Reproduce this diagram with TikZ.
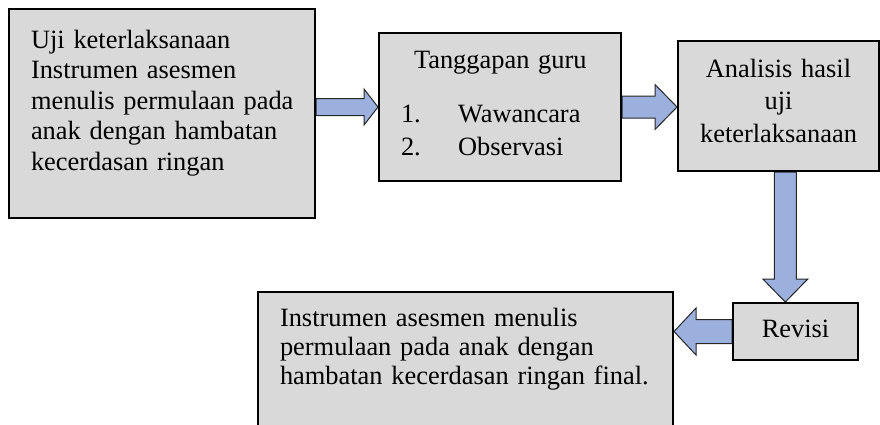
\documentclass[tikz,border=0pt]{standalone}
\usepackage{fontspec}
\setmainfont{Liberation Serif}
\usetikzlibrary{calc,backgrounds}
\definecolor{abu}{HTML}{D9D9D9}
\definecolor{biru}{RGB}{156,176,221}
\tikzset{
  kotak/.style={draw, line width=2pt, fill=abu, anchor=north west,
    inner xsep=22pt, inner ysep=0pt, font=\fontsize{26.4}{30.6}\selectfont},
  panah/.style={draw=black!85, line width=1pt, fill=biru, line join=miter}
}
% panah blok: ekor, ujung, setengah badan, setengah kepala, panjang kepala
\newcommand{\panahblok}[5]{%
  \coordinate (pb) at ($(#2)!#5!(#1)$);
  \draw[panah] ($(#1)!#3!90:(#2)$) -- ($(pb)!#3!90:(#2)$) -- ($(pb)!#4!90:(#2)$)
    -- (#2) -- ($(pb)!#4!-90:(#2)$) -- ($(pb)!#3!-90:(#2)$) -- ($(#1)!#3!-90:(#2)$) -- cycle;}

\begin{document}
\begin{tikzpicture}[x=1pt,y=-1pt]
  \useasboundingbox (0,0) rectangle (880,424);
  \node[kotak, minimum width=306pt, minimum height=209pt, text width=262pt, align=left,
    text height=0pt, text depth=131pt] (uji) at (8,8)
    {Uji keterlaksanaan\\ Instrumen asesmen\\ \mbox{menulis permulaan pada}\\ anak dengan hambatan\\ kecerdasan ringan};
  \node[kotak, minimum width=242pt, minimum height=148pt, text width=198pt, align=left,
    text height=0pt, text depth=78pt] (tg) at (378,32)
    {\hspace*{13pt}Tanggapan guru\\[24pt] \makebox[57pt][l]{1.}Wawancara\\[2pt] \makebox[57pt][l]{2.}Observasi};
  \node[kotak, inner xsep=10pt, minimum width=201pt, minimum height=130pt, text width=181pt, align=center,
    text height=0pt, text depth=58pt] (an) at (677,40)
    {Analisis hasil\\[2pt] uji\\[2pt] keterlaksanaan};
  \node[kotak, minimum width=125pt, minimum height=57pt, text height=11pt, text depth=0pt] (rv) at (732,302) {Revisi};
  \node[kotak, minimum width=415pt, minimum height=136pt, text width=371pt, align=left,
    text height=0pt, text depth=68pt] (fn) at (257,291)
    {Instrumen asesmen menulis\\[-1.5pt] permulaan pada anak dengan\\[-1.5pt] hambatan kecerdasan ringan final.};

  \begin{scope}[on background layer]
    \coordinate (a1) at (uji.east |- tg.west);
    \coordinate (a2) at (an.west |- tg.east);
    \coordinate (a3) at ($(an.south)!0.4!(an.south -| rv.north)$);
    \coordinate (a3t) at (a3 |- rv.north);
    \coordinate (a4) at (fn.east |- rv.west);
    \panahblok{a1}{tg.west}{8.5pt}{18pt}{14pt}
    \panahblok{tg.east}{a2}{11pt}{22.5pt}{22pt}
    \panahblok{a3}{a3t}{11pt}{22.5pt}{23pt}
    \panahblok{rv.west}{a4}{12pt}{23.5pt}{22pt}
  \end{scope}
\end{tikzpicture}
\end{document}
